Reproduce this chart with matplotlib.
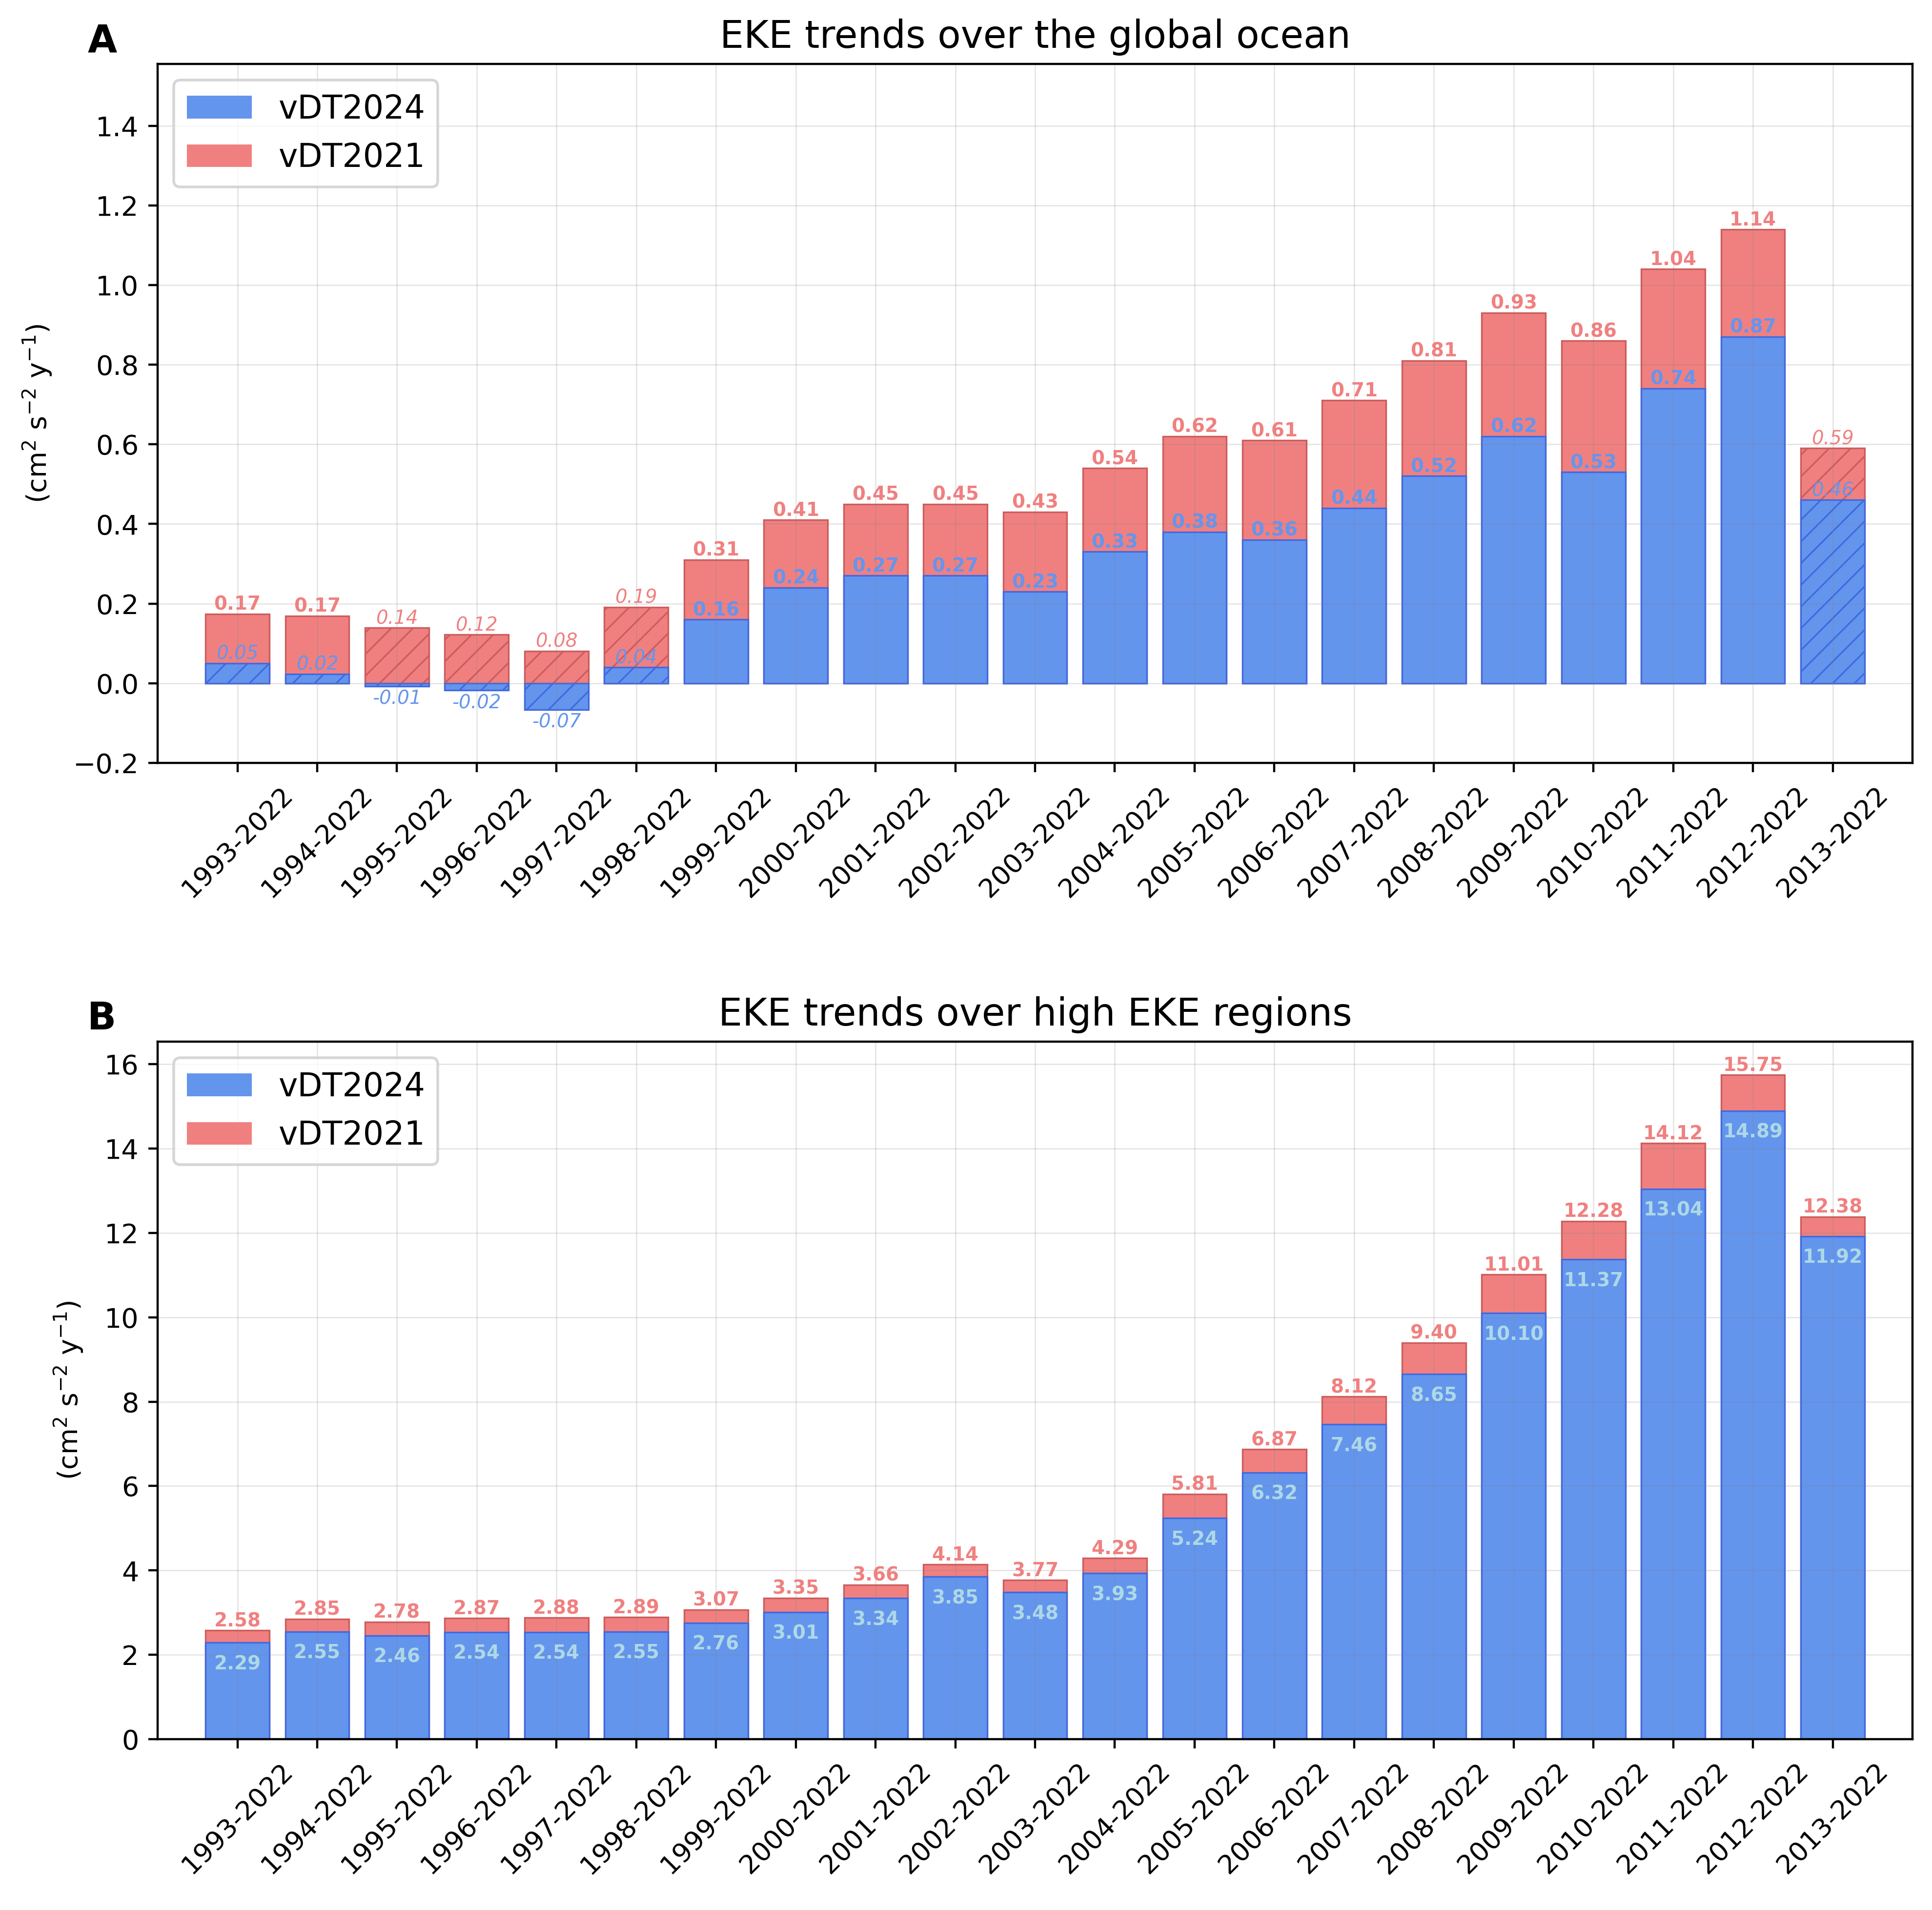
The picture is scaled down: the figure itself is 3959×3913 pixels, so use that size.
import numpy as np
import matplotlib
matplotlib.use('Agg')
import matplotlib.pyplot as plt
from matplotlib.patches import Patch

periods = ['1993-2022', '1994-2022', '1995-2022', '1996-2022', '1997-2022',
           '1998-2022', '1999-2022', '2000-2022', '2001-2022', '2002-2022',
           '2003-2022', '2004-2022', '2005-2022', '2006-2022', '2007-2022',
           '2008-2022', '2009-2022', '2010-2022', '2011-2022', '2012-2022',
           '2013-2022']

# global ocean trends (cm2 s-2 y-1)
glob_v2024 = [0.050, 0.023, -0.008, -0.018, -0.066, 0.040, 0.16, 0.24, 0.27, 0.27,
              0.23, 0.33, 0.38, 0.36, 0.44, 0.52, 0.62, 0.53, 0.74, 0.87, 0.46]
glob_v2021 = [0.174, 0.169, 0.139, 0.122, 0.081, 0.191, 0.31, 0.41, 0.45, 0.45,
              0.43, 0.54, 0.62, 0.61, 0.71, 0.81, 0.93, 0.86, 1.04, 1.14, 0.59]
# significant trend or not
glob_sig2024 = [0, 0, 0, 0, 0, 0, 1, 1, 1, 1, 1, 1, 1, 1, 1, 1, 1, 1, 1, 1, 0]
glob_sig2021 = [1, 1, 0, 0, 0, 0, 1, 1, 1, 1, 1, 1, 1, 1, 1, 1, 1, 1, 1, 1, 0]

# high EKE regions
high_v2024 = [2.29, 2.55, 2.46, 2.54, 2.54, 2.55, 2.76, 3.01, 3.34, 3.85, 3.48,
              3.93, 5.24, 6.32, 7.46, 8.65, 10.10, 11.37, 13.04, 14.89, 11.92]
high_v2021 = [2.58, 2.85, 2.78, 2.87, 2.88, 2.89, 3.07, 3.35, 3.66, 4.14, 3.77,
              4.29, 5.81, 6.87, 8.12, 9.40, 11.01, 12.28, 14.12, 15.75, 12.38]

c24 = 'cornflowerblue'
c21 = 'lightcoral'
e24 = 'royalblue'
e21 = 'indianred'

plt.rcParams['hatch.linewidth'] = 0.6

fig = plt.figure(figsize=(3959 / 400, 3913 / 400), dpi=400)
ax1 = fig.add_axes([0.0816, 0.6006, 0.9083, 0.3659])
ax2 = fig.add_axes([0.0816, 0.0894, 0.9083, 0.3652])

x = np.arange(len(periods))


def draw_panel(ax, v24, v21, sig24, sig21, inside):
    for i in range(len(x)):
        h21 = '///' if not sig21[i] else None
        h24 = '///' if not sig24[i] else None
        ax.bar(x[i], v21[i], 0.8, color=c21, edgecolor=e21, linewidth=0.6,
               hatch=h21, zorder=1)
        ax.bar(x[i], v24[i], 0.8, color=c24, edgecolor=e24, linewidth=0.6,
               hatch=h24, zorder=1)

    for i in range(len(x)):
        w21 = 'bold' if sig21[i] else 'normal'
        s21 = 'normal' if sig21[i] else 'italic'
        ax.text(x[i], v21[i], '%.2f' % v21[i], ha='center', va='bottom',
                fontsize=7, color=c21, fontweight=w21, fontstyle=s21)
        w24 = 'bold' if sig24[i] else 'normal'
        s24 = 'normal' if sig24[i] else 'italic'
        if inside:
            ax.annotate('%.2f' % v24[i], (x[i], v24[i]), xytext=(0, -4.5),
                        textcoords='offset points', ha='center', va='top',
                        fontsize=7, color='lightblue', fontweight=w24,
                        fontstyle=s24)
        elif v24[i] >= 0:
            ax.text(x[i], v24[i], '%.2f' % v24[i], ha='center', va='bottom',
                    fontsize=7, color=c24, fontweight=w24, fontstyle=s24)
        else:
            ax.annotate('%.2f' % v24[i], (x[i], v24[i]), xytext=(0, -1.2),
                        textcoords='offset points', ha='center', va='top',
                        fontsize=7, color=c24, fontweight=w24, fontstyle=s24)

    ax.set_xlim(-1, len(x))
    ax.set_xticks(x)
    ax.set_xticklabels(periods, rotation=45, fontsize=9.8)
    ax.tick_params(axis='y', labelsize=10)
    ax.grid(True, color='gray', alpha=0.2, linewidth=0.5)
    ax.set_ylabel('(cm$^2$ s$^{-2}$ y$^{-1}$)', fontsize=10, labelpad=7)
    handles = [Patch(facecolor=c24, edgecolor='none'),
               Patch(facecolor=c21, edgecolor='none')]
    ax.legend(handles, ['vDT2024', 'vDT2021'], loc='upper left', fontsize=12)


draw_panel(ax1, glob_v2024, glob_v2021, glob_sig2024, glob_sig2021, False)
draw_panel(ax2, high_v2024, high_v2021, [1] * len(x), [1] * len(x), True)

ax1.set_ylim(-0.2, 1.555)
ax2.set_ylim(0, 16.53)

ax1.set_title('EKE trends over the global ocean', fontsize=14)
ax2.set_title('EKE trends over high EKE regions', fontsize=14)
ax1.text(-0.04, 1.0175, 'A', transform=ax1.transAxes, fontsize=14,
         fontweight='bold', va='baseline', ha='left')
ax2.text(-0.04, 1.0175, 'B', transform=ax2.transAxes, fontsize=14,
         fontweight='bold', va='baseline', ha='left')

fig.savefig('out.png', dpi=400)
